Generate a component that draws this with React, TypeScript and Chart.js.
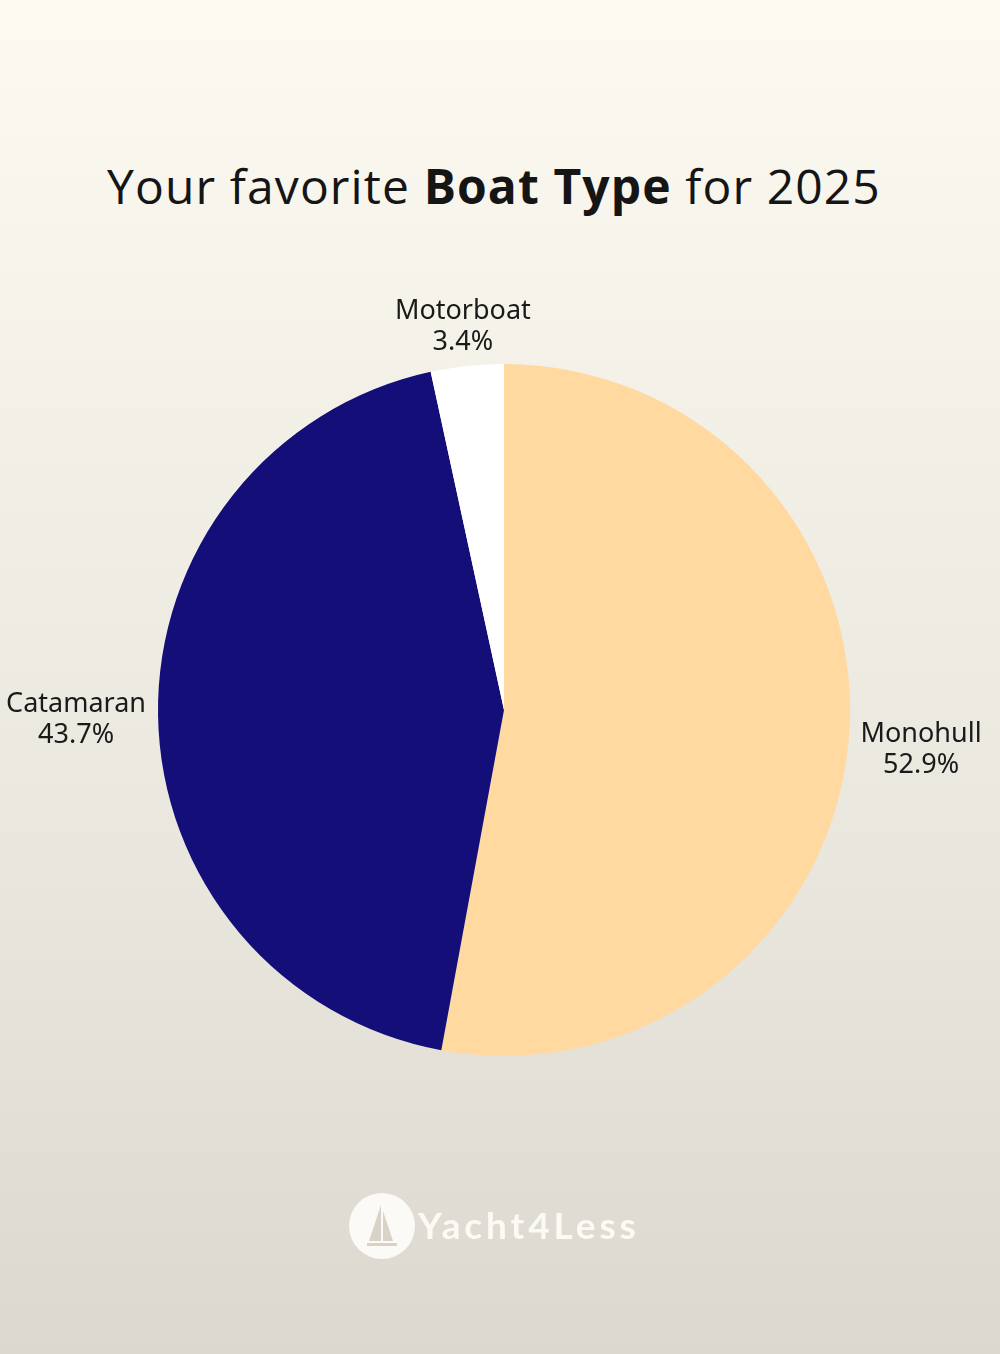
import React, { useEffect, useRef } from "react";
import { Chart, registerables } from "chart.js";

Chart.register(...registerables);

const categories = ["Monohull", "Catamaran", "Motorboat"];
const shares = [52.9, 43.7, 3.4];
const sliceColors = ["#FFD9A0", "#130E78", "#FFFFFF"];
const titleParts = ["Your favorite ", "Boat Type", " for 2025"];
const brandName = "Yacht4Less";

const outsideLabels = {
  id: "outsideLabels",
  afterDraw(chart: any) {
    const ctx = chart.ctx;
    const meta = chart.getDatasetMeta(0);
    ctx.save();
    ctx.font = "27px 'Noto Sans', 'Open Sans', sans-serif";
    ctx.fillStyle = "#1a1a1a";
    const lineH = 31;
    meta.data.forEach((arc: any, i: number) => {
      const p = arc.getProps(["x", "y", "startAngle", "endAngle", "outerRadius"], true);
      const mid = (p.startAngle + p.endAngle) / 2;
      const r = p.outerRadius + 12;
      const px = p.x + Math.cos(mid) * r;
      const py = p.y + Math.sin(mid) * r;
      const c = Math.cos(mid);
      const s = Math.sin(mid);
      const lines = [categories[i], shares[i].toFixed(1) + "%"];
      const blockW = Math.max(...lines.map((t) => ctx.measureText(t).width));
      let cx: number;
      if (c > 0.3) cx = px + blockW / 2;
      else if (c < -0.3) cx = px - blockW / 2;
      else cx = px - 3;
      const blockH = lines.length * lineH;
      let top: number;
      if (s < -0.3) top = py - blockH;
      else if (s > 0.3) top = py;
      else top = py - blockH / 2;
      top += c > 0.3 ? 7 : 4;
      ctx.textAlign = "center";
      ctx.textBaseline = "middle";
      lines.forEach((t, k) => {
        ctx.fillText(t, cx, top + lineH * k + lineH / 2);
      });
    });
    ctx.restore();
  },
};

export default function App() {
  const ref = useRef<HTMLCanvasElement>(null);
  useEffect(() => {
    if (!ref.current) return;
    const chart = new Chart(ref.current, {
      type: "pie",
      data: {
        labels: categories,
        datasets: [
          {
            data: shares,
            backgroundColor: sliceColors,
            borderWidth: 0,
          },
        ],
      },
      options: {
        animation: false,
        responsive: false,
        maintainAspectRatio: false,
        layout: { padding: { left: 158, right: 150, top: 364, bottom: 298 } },
        plugins: {
          legend: { display: false },
          tooltip: { enabled: false },
        },
      },
      plugins: [outsideLabels],
    });
    return () => chart.destroy();
  }, []);

  return (
    <div
      style={{
        position: "absolute",
        left: 0,
        top: 0,
        width: 1000,
        height: 1354,
        overflow: "hidden",
        background: "linear-gradient(180deg, #fdfaf2 0%, #f3f0e8 30%, #e9e6de 65%, #dcd8cf 100%)",
      }}
    >
      <div
        style={{
          position: "absolute",
          left: -6,
          top: 156,
          width: 1000,
          textAlign: "center",
          fontFamily: "'Open Sans', sans-serif",
          fontSize: 48,
          color: "#151515",
          lineHeight: "60px",
          whiteSpace: "nowrap",
          letterSpacing: 1.1,
        }}
      >
        <span style={{ fontWeight: 400 }}>{titleParts[0]}</span>
        <span style={{ fontWeight: 700 }}>{titleParts[1]}</span>
        <span style={{ fontWeight: 400 }}>{titleParts[2]}</span>
      </div>
      <canvas ref={ref} width={1000} height={1354} style={{ position: "absolute", left: 0, top: 0 }} />
      <div
        style={{
          position: "absolute",
          left: 349,
          top: 1193,
          width: 66,
          height: 66,
          borderRadius: "50%",
          background: "#fbfaf6",
        }}
      >
        <svg width={66} height={66} viewBox="0 0 66 66">
          <path d="M32 12 L32 48 L20 48 Z" fill="#d8d3c6" />
          <path d="M34 18 L34 48 L44 48 Z" fill="#d8d3c6" />
          <rect x={18} y={50} width={30} height={3} fill="#d8d3c6" />
        </svg>
      </div>
      <div
        style={{
          position: "absolute",
          left: 418,
          top: 1203,
          fontFamily: "Lato, sans-serif",
          fontWeight: 700,
          fontSize: 37,
          lineHeight: "44px",
          color: "#fbfaf5",
          letterSpacing: 3.9,
        }}
      >
        {brandName}
      </div>
    </div>
  );
}
